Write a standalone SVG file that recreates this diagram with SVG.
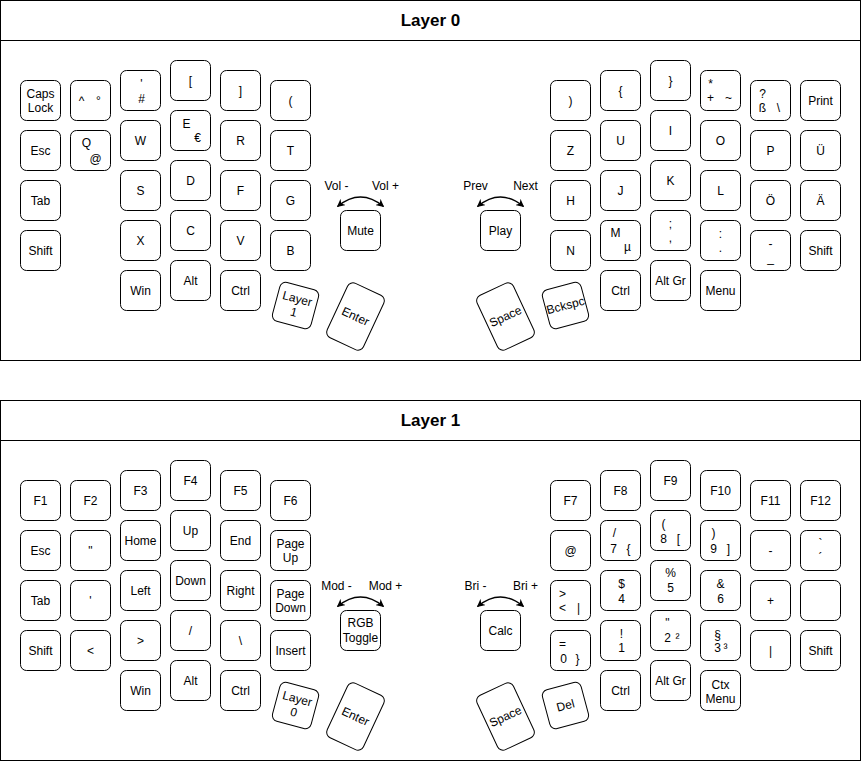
<svg xmlns="http://www.w3.org/2000/svg" width="861" height="761" viewBox="0 0 861 761">
<defs>
<style>
.frame{fill:#fff;stroke:#000;stroke-width:1}
.k rect{fill:#fff;stroke:#000;stroke-width:1}
text{font-family:"Liberation Sans",Arial,Helvetica,sans-serif;font-size:12px;fill:#000;text-anchor:middle}
.title{font-size:17px;font-weight:bold}
.arc{fill:none;stroke:#000;stroke-width:1.3}
</style>
<marker id="ah" viewBox="0 0 10 10" refX="9" refY="5" markerWidth="8" markerHeight="8" orient="auto-start-reverse" markerUnits="userSpaceOnUse">
<path d="M0,0 L10,5 L0,10 L3,5 z" fill="#000"/>
</marker>
</defs>
<rect width="861" height="761" fill="#fff"/>
<g transform="translate(0.5,0.5)">
<!-- Layer 0 frame -->
<g id="layer0-frame">
<rect class="frame" x="0" y="0" width="860" height="360"/>
<line x1="0" y1="40" x2="860" y2="40" stroke="#000"/>
<text class="title" x="430" y="25">Layer 0</text>
</g>
<!-- Layer 1 frame -->
<g id="layer1-frame">
<rect class="frame" x="0" y="400" width="860" height="360"/>
<line x1="0" y1="440" x2="860" y2="440" stroke="#000"/>
<text class="title" x="430" y="425">Layer 1</text>
</g>

<!-- ===== Layer 0 left ===== -->
<g id="l0-caps" class="k"><rect x="20" y="80" width="40" height="40" rx="6"/><text x="40" y="97">Caps</text><text x="40" y="111">Lock</text></g>
<g id="l0-esc" class="k"><rect x="20" y="130" width="40" height="40" rx="6"/><text x="40" y="154">Esc</text></g>
<g id="l0-tab" class="k"><rect x="20" y="180" width="40" height="40" rx="6"/><text x="40" y="204">Tab</text></g>
<g id="l0-shiftl" class="k"><rect x="20" y="230" width="40" height="40" rx="6"/><text x="40" y="254">Shift</text></g>
<g id="l0-circ" class="k"><rect x="70" y="80" width="40" height="40" rx="6"/><text x="81" y="104">^</text><text x="98" y="104">°</text></g>
<g id="l0-q" class="k"><rect x="70" y="130" width="40" height="40" rx="6"/><text x="86" y="146.5">Q</text><text x="95" y="162.5">@</text></g>
<g id="l0-hash" class="k"><rect x="120" y="70" width="40" height="40" rx="6"/><text x="141" y="87">'</text><text x="141" y="102">#</text></g>
<g id="l0-w" class="k"><rect x="120" y="120" width="40" height="40" rx="6"/><text x="140" y="144">W</text></g>
<g id="l0-s" class="k"><rect x="120" y="170" width="40" height="40" rx="6"/><text x="140" y="194">S</text></g>
<g id="l0-x" class="k"><rect x="120" y="220" width="40" height="40" rx="6"/><text x="140" y="244">X</text></g>
<g id="l0-win" class="k"><rect x="120" y="270" width="40" height="40" rx="6"/><text x="140" y="294">Win</text></g>
<g id="l0-lbr" class="k"><rect x="170" y="60" width="40" height="40" rx="6"/><text x="190" y="84">[</text></g>
<g id="l0-e" class="k"><rect x="170" y="110" width="40" height="40" rx="6"/><text x="186" y="127.5">E</text><text x="197" y="141.5">€</text></g>
<g id="l0-d" class="k"><rect x="170" y="160" width="40" height="40" rx="6"/><text x="190" y="184">D</text></g>
<g id="l0-c" class="k"><rect x="170" y="210" width="40" height="40" rx="6"/><text x="190" y="234">C</text></g>
<g id="l0-alt" class="k"><rect x="170" y="260" width="40" height="40" rx="6"/><text x="190" y="284">Alt</text></g>
<g id="l0-rbr" class="k"><rect x="220" y="70" width="40" height="40" rx="6"/><text x="240" y="94">]</text></g>
<g id="l0-r" class="k"><rect x="220" y="120" width="40" height="40" rx="6"/><text x="240" y="144">R</text></g>
<g id="l0-f" class="k"><rect x="220" y="170" width="40" height="40" rx="6"/><text x="240" y="194">F</text></g>
<g id="l0-v" class="k"><rect x="220" y="220" width="40" height="40" rx="6"/><text x="240" y="244">V</text></g>
<g id="l0-ctrll" class="k"><rect x="220" y="270" width="40" height="40" rx="6"/><text x="240" y="294">Ctrl</text></g>
<g id="l0-lpar" class="k"><rect x="270" y="80" width="40" height="40" rx="6"/><text x="290" y="104">(</text></g>
<g id="l0-t" class="k"><rect x="270" y="130" width="40" height="40" rx="6"/><text x="290" y="154">T</text></g>
<g id="l0-g" class="k"><rect x="270" y="180" width="40" height="40" rx="6"/><text x="290" y="204">G</text></g>
<g id="l0-b" class="k"><rect x="270" y="230" width="40" height="40" rx="6"/><text x="290" y="254">B</text></g>
<g id="l0-layer1" class="k" transform="rotate(15 295 305)"><rect x="275" y="285" width="40" height="40" rx="6"/><text x="295" y="302">Layer</text><text x="295" y="316">1</text></g>
<g id="l0-enter" class="k" transform="rotate(25 355 316)"><rect x="335" y="286" width="40" height="60" rx="6"/><text x="355" y="320">Enter</text></g>
<g id="l0-mute" class="k"><rect x="340" y="210" width="40" height="40" rx="6"/><text x="360" y="234">Mute</text></g>
<g id="l0-vol-labels"><text x="336" y="189">Vol -</text><text x="385" y="189">Vol +</text></g>

<!-- ===== Layer 0 right ===== -->
<g id="l0-play" class="k"><rect x="480" y="210" width="40" height="40" rx="6"/><text x="500" y="234">Play</text></g>
<g id="l0-media-labels"><text x="475" y="189">Prev</text><text x="525" y="189">Next</text></g>
<g id="l0-space" class="k" transform="rotate(-25 505 316)"><rect x="485" y="286" width="40" height="60" rx="6"/><text x="505" y="320">Space</text></g>
<g id="l0-bckspc" class="k" transform="rotate(-15 565 305)"><rect x="545" y="285" width="40" height="40" rx="6"/><text x="565" y="309">Bckspc</text></g>
<g id="l0-rpar" class="k"><rect x="550" y="80" width="40" height="40" rx="6"/><text x="570" y="104">)</text></g>
<g id="l0-z" class="k"><rect x="550" y="130" width="40" height="40" rx="6"/><text x="570" y="154">Z</text></g>
<g id="l0-h" class="k"><rect x="550" y="180" width="40" height="40" rx="6"/><text x="570" y="204">H</text></g>
<g id="l0-n" class="k"><rect x="550" y="230" width="40" height="40" rx="6"/><text x="570" y="254">N</text></g>
<g id="l0-lbrace" class="k"><rect x="600" y="70" width="40" height="40" rx="6"/><text x="620" y="94">{</text></g>
<g id="l0-u" class="k"><rect x="600" y="120" width="40" height="40" rx="6"/><text x="620" y="144">U</text></g>
<g id="l0-j" class="k"><rect x="600" y="170" width="40" height="40" rx="6"/><text x="620" y="194">J</text></g>
<g id="l0-m" class="k"><rect x="600" y="220" width="40" height="40" rx="6"/><text x="615" y="236">M</text><text x="627" y="250">µ</text></g>
<g id="l0-ctrlr" class="k"><rect x="600" y="270" width="40" height="40" rx="6"/><text x="620" y="294">Ctrl</text></g>
<g id="l0-rbrace" class="k"><rect x="650" y="60" width="40" height="40" rx="6"/><text x="670" y="84">}</text></g>
<g id="l0-i" class="k"><rect x="650" y="110" width="40" height="40" rx="6"/><text x="670" y="134">I</text></g>
<g id="l0-k" class="k"><rect x="650" y="160" width="40" height="40" rx="6"/><text x="670" y="184">K</text></g>
<g id="l0-semi" class="k"><rect x="650" y="210" width="40" height="40" rx="6"/><text x="670" y="227">;</text><text x="670" y="241">,</text></g>
<g id="l0-altgr" class="k"><rect x="650" y="260" width="40" height="40" rx="6"/><text x="670" y="284">Alt Gr</text></g>
<g id="l0-star" class="k"><rect x="700" y="70" width="40" height="40" rx="6"/><text x="710" y="87">*</text><text x="710" y="101">+</text><text x="728" y="101">~</text></g>
<g id="l0-o" class="k"><rect x="700" y="120" width="40" height="40" rx="6"/><text x="720" y="144">O</text></g>
<g id="l0-l" class="k"><rect x="700" y="170" width="40" height="40" rx="6"/><text x="720" y="194">L</text></g>
<g id="l0-colon" class="k"><rect x="700" y="220" width="40" height="40" rx="6"/><text x="720" y="237">:</text><text x="720" y="251">.</text></g>
<g id="l0-menu" class="k"><rect x="700" y="270" width="40" height="40" rx="6"/><text x="720" y="294">Menu</text></g>
<g id="l0-sz" class="k"><rect x="750" y="80" width="40" height="40" rx="6"/><text x="762" y="97">?</text><text x="762" y="111">ß</text><text x="778" y="111">\</text></g>
<g id="l0-p" class="k"><rect x="750" y="130" width="40" height="40" rx="6"/><text x="770" y="154">P</text></g>
<g id="l0-oe" class="k"><rect x="750" y="180" width="40" height="40" rx="6"/><text x="770" y="204">Ö</text></g>
<g id="l0-minus" class="k"><rect x="750" y="230" width="40" height="40" rx="6"/><text x="770" y="247">-</text><text x="770" y="261">_</text></g>
<g id="l0-print" class="k"><rect x="800" y="80" width="40" height="40" rx="6"/><text x="820" y="104">Print</text></g>
<g id="l0-ue" class="k"><rect x="800" y="130" width="40" height="40" rx="6"/><text x="820" y="154">Ü</text></g>
<g id="l0-ae" class="k"><rect x="800" y="180" width="40" height="40" rx="6"/><text x="820" y="204">Ä</text></g>
<g id="l0-shiftr" class="k"><rect x="800" y="230" width="40" height="40" rx="6"/><text x="820" y="254">Shift</text></g>

<!-- ===== Layer 1 left ===== -->
<g id="l1-f1" class="k"><rect x="20" y="480" width="40" height="40" rx="6"/><text x="40" y="504">F1</text></g>
<g id="l1-esc" class="k"><rect x="20" y="530" width="40" height="40" rx="6"/><text x="40" y="554">Esc</text></g>
<g id="l1-tab" class="k"><rect x="20" y="580" width="40" height="40" rx="6"/><text x="40" y="604">Tab</text></g>
<g id="l1-shiftl" class="k"><rect x="20" y="630" width="40" height="40" rx="6"/><text x="40" y="654">Shift</text></g>
<g id="l1-f2" class="k"><rect x="70" y="480" width="40" height="40" rx="6"/><text x="90" y="504">F2</text></g>
<g id="l1-dquote" class="k"><rect x="70" y="530" width="40" height="40" rx="6"/><text x="90" y="554">"</text></g>
<g id="l1-squote" class="k"><rect x="70" y="580" width="40" height="40" rx="6"/><text x="90" y="604">'</text></g>
<g id="l1-lt" class="k"><rect x="70" y="630" width="40" height="40" rx="6"/><text x="90" y="654">&lt;</text></g>
<g id="l1-f3" class="k"><rect x="120" y="470" width="40" height="40" rx="6"/><text x="140" y="494">F3</text></g>
<g id="l1-home" class="k"><rect x="120" y="520" width="40" height="40" rx="6"/><text x="140" y="544">Home</text></g>
<g id="l1-left" class="k"><rect x="120" y="570" width="40" height="40" rx="6"/><text x="140" y="594">Left</text></g>
<g id="l1-gt" class="k"><rect x="120" y="620" width="40" height="40" rx="6"/><text x="140" y="644">&gt;</text></g>
<g id="l1-win" class="k"><rect x="120" y="670" width="40" height="40" rx="6"/><text x="140" y="694">Win</text></g>
<g id="l1-f4" class="k"><rect x="170" y="460" width="40" height="40" rx="6"/><text x="190" y="484">F4</text></g>
<g id="l1-up" class="k"><rect x="170" y="510" width="40" height="40" rx="6"/><text x="190" y="534">Up</text></g>
<g id="l1-down" class="k"><rect x="170" y="560" width="40" height="40" rx="6"/><text x="190" y="584">Down</text></g>
<g id="l1-slash" class="k"><rect x="170" y="610" width="40" height="40" rx="6"/><text x="190" y="634">/</text></g>
<g id="l1-alt" class="k"><rect x="170" y="660" width="40" height="40" rx="6"/><text x="190" y="684">Alt</text></g>
<g id="l1-f5" class="k"><rect x="220" y="470" width="40" height="40" rx="6"/><text x="240" y="494">F5</text></g>
<g id="l1-end" class="k"><rect x="220" y="520" width="40" height="40" rx="6"/><text x="240" y="544">End</text></g>
<g id="l1-right" class="k"><rect x="220" y="570" width="40" height="40" rx="6"/><text x="240" y="594">Right</text></g>
<g id="l1-bslash" class="k"><rect x="220" y="620" width="40" height="40" rx="6"/><text x="240" y="644">\</text></g>
<g id="l1-ctrll" class="k"><rect x="220" y="670" width="40" height="40" rx="6"/><text x="240" y="694">Ctrl</text></g>
<g id="l1-f6" class="k"><rect x="270" y="480" width="40" height="40" rx="6"/><text x="290" y="504">F6</text></g>
<g id="l1-pgup" class="k"><rect x="270" y="530" width="40" height="40" rx="6"/><text x="290" y="547">Page</text><text x="290" y="561">Up</text></g>
<g id="l1-pgdn" class="k"><rect x="270" y="580" width="40" height="40" rx="6"/><text x="290" y="597">Page</text><text x="290" y="611">Down</text></g>
<g id="l1-insert" class="k"><rect x="270" y="630" width="40" height="40" rx="6"/><text x="290" y="654">Insert</text></g>
<g id="l1-layer0" class="k" transform="rotate(15 295 705)"><rect x="275" y="685" width="40" height="40" rx="6"/><text x="295" y="702">Layer</text><text x="295" y="716">0</text></g>
<g id="l1-enter" class="k" transform="rotate(25 355 716)"><rect x="335" y="686" width="40" height="60" rx="6"/><text x="355" y="720">Enter</text></g>
<g id="l1-rgb" class="k"><rect x="340" y="610" width="40" height="40" rx="6"/><text x="360" y="626">RGB</text><text x="360" y="641">Toggle</text></g>
<g id="l1-mod-labels"><text x="336" y="589">Mod -</text><text x="385" y="589">Mod +</text></g>

<!-- ===== Layer 1 right ===== -->
<g id="l1-calc" class="k"><rect x="480" y="610" width="40" height="40" rx="6"/><text x="500" y="634">Calc</text></g>
<g id="l1-bri-labels"><text x="475" y="589">Bri -</text><text x="525" y="589">Bri +</text></g>
<g id="l1-space" class="k" transform="rotate(-25 505 716)"><rect x="485" y="686" width="40" height="60" rx="6"/><text x="505" y="720">Space</text></g>
<g id="l1-del" class="k" transform="rotate(-15 565 705)"><rect x="545" y="685" width="40" height="40" rx="6"/><text x="565" y="709">Del</text></g>
<g id="l1-f7" class="k"><rect x="550" y="480" width="40" height="40" rx="6"/><text x="570" y="504">F7</text></g>
<g id="l1-at" class="k"><rect x="550" y="530" width="40" height="40" rx="6"/><text x="570" y="554">@</text></g>
<g id="l1-ltgt" class="k"><rect x="550" y="580" width="40" height="40" rx="6"/><text x="562" y="597">&gt;</text><text x="562" y="611">&lt;</text><text x="578" y="611">|</text></g>
<g id="l1-0" class="k"><rect x="550" y="630" width="40" height="40" rx="6"/><text x="562" y="647">=</text><text x="563" y="662">0</text><text x="577" y="662">}</text></g>
<g id="l1-f8" class="k"><rect x="600" y="470" width="40" height="40" rx="6"/><text x="620" y="494">F8</text></g>
<g id="l1-7" class="k"><rect x="600" y="520" width="40" height="40" rx="6"/><text x="614" y="536">/</text><text x="613" y="552">7</text><text x="628" y="552">{</text></g>
<g id="l1-4" class="k"><rect x="600" y="570" width="40" height="40" rx="6"/><text x="621" y="587.5">$</text><text x="621" y="602.5">4</text></g>
<g id="l1-1" class="k"><rect x="600" y="620" width="40" height="40" rx="6"/><text x="621" y="637">!</text><text x="621" y="651">1</text></g>
<g id="l1-ctrlr" class="k"><rect x="600" y="670" width="40" height="40" rx="6"/><text x="620" y="694">Ctrl</text></g>
<g id="l1-f9" class="k"><rect x="650" y="460" width="40" height="40" rx="6"/><text x="670" y="484">F9</text></g>
<g id="l1-8" class="k"><rect x="650" y="510" width="40" height="40" rx="6"/><text x="663" y="527">(</text><text x="663" y="542">8</text><text x="678" y="542">[</text></g>
<g id="l1-5" class="k"><rect x="650" y="560" width="40" height="40" rx="6"/><text x="670" y="576">%</text><text x="670" y="591">5</text></g>
<g id="l1-2" class="k"><rect x="650" y="610" width="40" height="40" rx="6"/><text x="667" y="626">"</text><text x="667" y="641">2</text><text x="677" y="641">²</text></g>
<g id="l1-altgr" class="k"><rect x="650" y="660" width="40" height="40" rx="6"/><text x="670" y="684">Alt Gr</text></g>
<g id="l1-f10" class="k"><rect x="700" y="470" width="40" height="40" rx="6"/><text x="720" y="494">F10</text></g>
<g id="l1-9" class="k"><rect x="700" y="520" width="40" height="40" rx="6"/><text x="713" y="536">)</text><text x="713" y="552">9</text><text x="728" y="552">]</text></g>
<g id="l1-6" class="k"><rect x="700" y="570" width="40" height="40" rx="6"/><text x="720" y="587">&amp;</text><text x="720" y="602">6</text></g>
<g id="l1-3" class="k"><rect x="700" y="620" width="40" height="40" rx="6"/><text x="717" y="638">§</text><text x="717" y="651">3</text><text x="725" y="651">³</text></g>
<g id="l1-ctx" class="k"><rect x="700" y="670" width="40" height="40" rx="6"/><text x="720" y="688">Ctx</text><text x="720" y="702">Menu</text></g>
<g id="l1-f11" class="k"><rect x="750" y="480" width="40" height="40" rx="6"/><text x="770" y="504">F11</text></g>
<g id="l1-minus" class="k"><rect x="750" y="530" width="40" height="40" rx="6"/><text x="770" y="554">-</text></g>
<g id="l1-plus" class="k"><rect x="750" y="580" width="40" height="40" rx="6"/><text x="770" y="604">+</text></g>
<g id="l1-pipe" class="k"><rect x="750" y="630" width="40" height="40" rx="6"/><text x="770" y="654">|</text></g>
<g id="l1-f12" class="k"><rect x="800" y="480" width="40" height="40" rx="6"/><text x="820" y="504">F12</text></g>
<g id="l1-accent" class="k"><rect x="800" y="530" width="40" height="40" rx="6"/><text x="820" y="547">`</text><text x="820" y="561">´</text></g>
<g id="l1-blank" class="k"><rect x="800" y="580" width="40" height="40" rx="6"/></g>
<g id="l1-shiftr" class="k"><rect x="800" y="630" width="40" height="40" rx="6"/><text x="820" y="654">Shift</text></g>

<!-- connectors (encoder arcs) -->
<g id="connectors">
<path class="arc" d="M337,206 Q360,187 383,206" marker-start="url(#ah)" marker-end="url(#ah)"/>
<path class="arc" d="M477,206 Q500,187 523,206" marker-start="url(#ah)" marker-end="url(#ah)"/>
<path class="arc" d="M337,606 Q360,587 383,606" marker-start="url(#ah)" marker-end="url(#ah)"/>
<path class="arc" d="M477,606 Q500,587 523,606" marker-start="url(#ah)" marker-end="url(#ah)"/>
</g>
</g>
</svg>
